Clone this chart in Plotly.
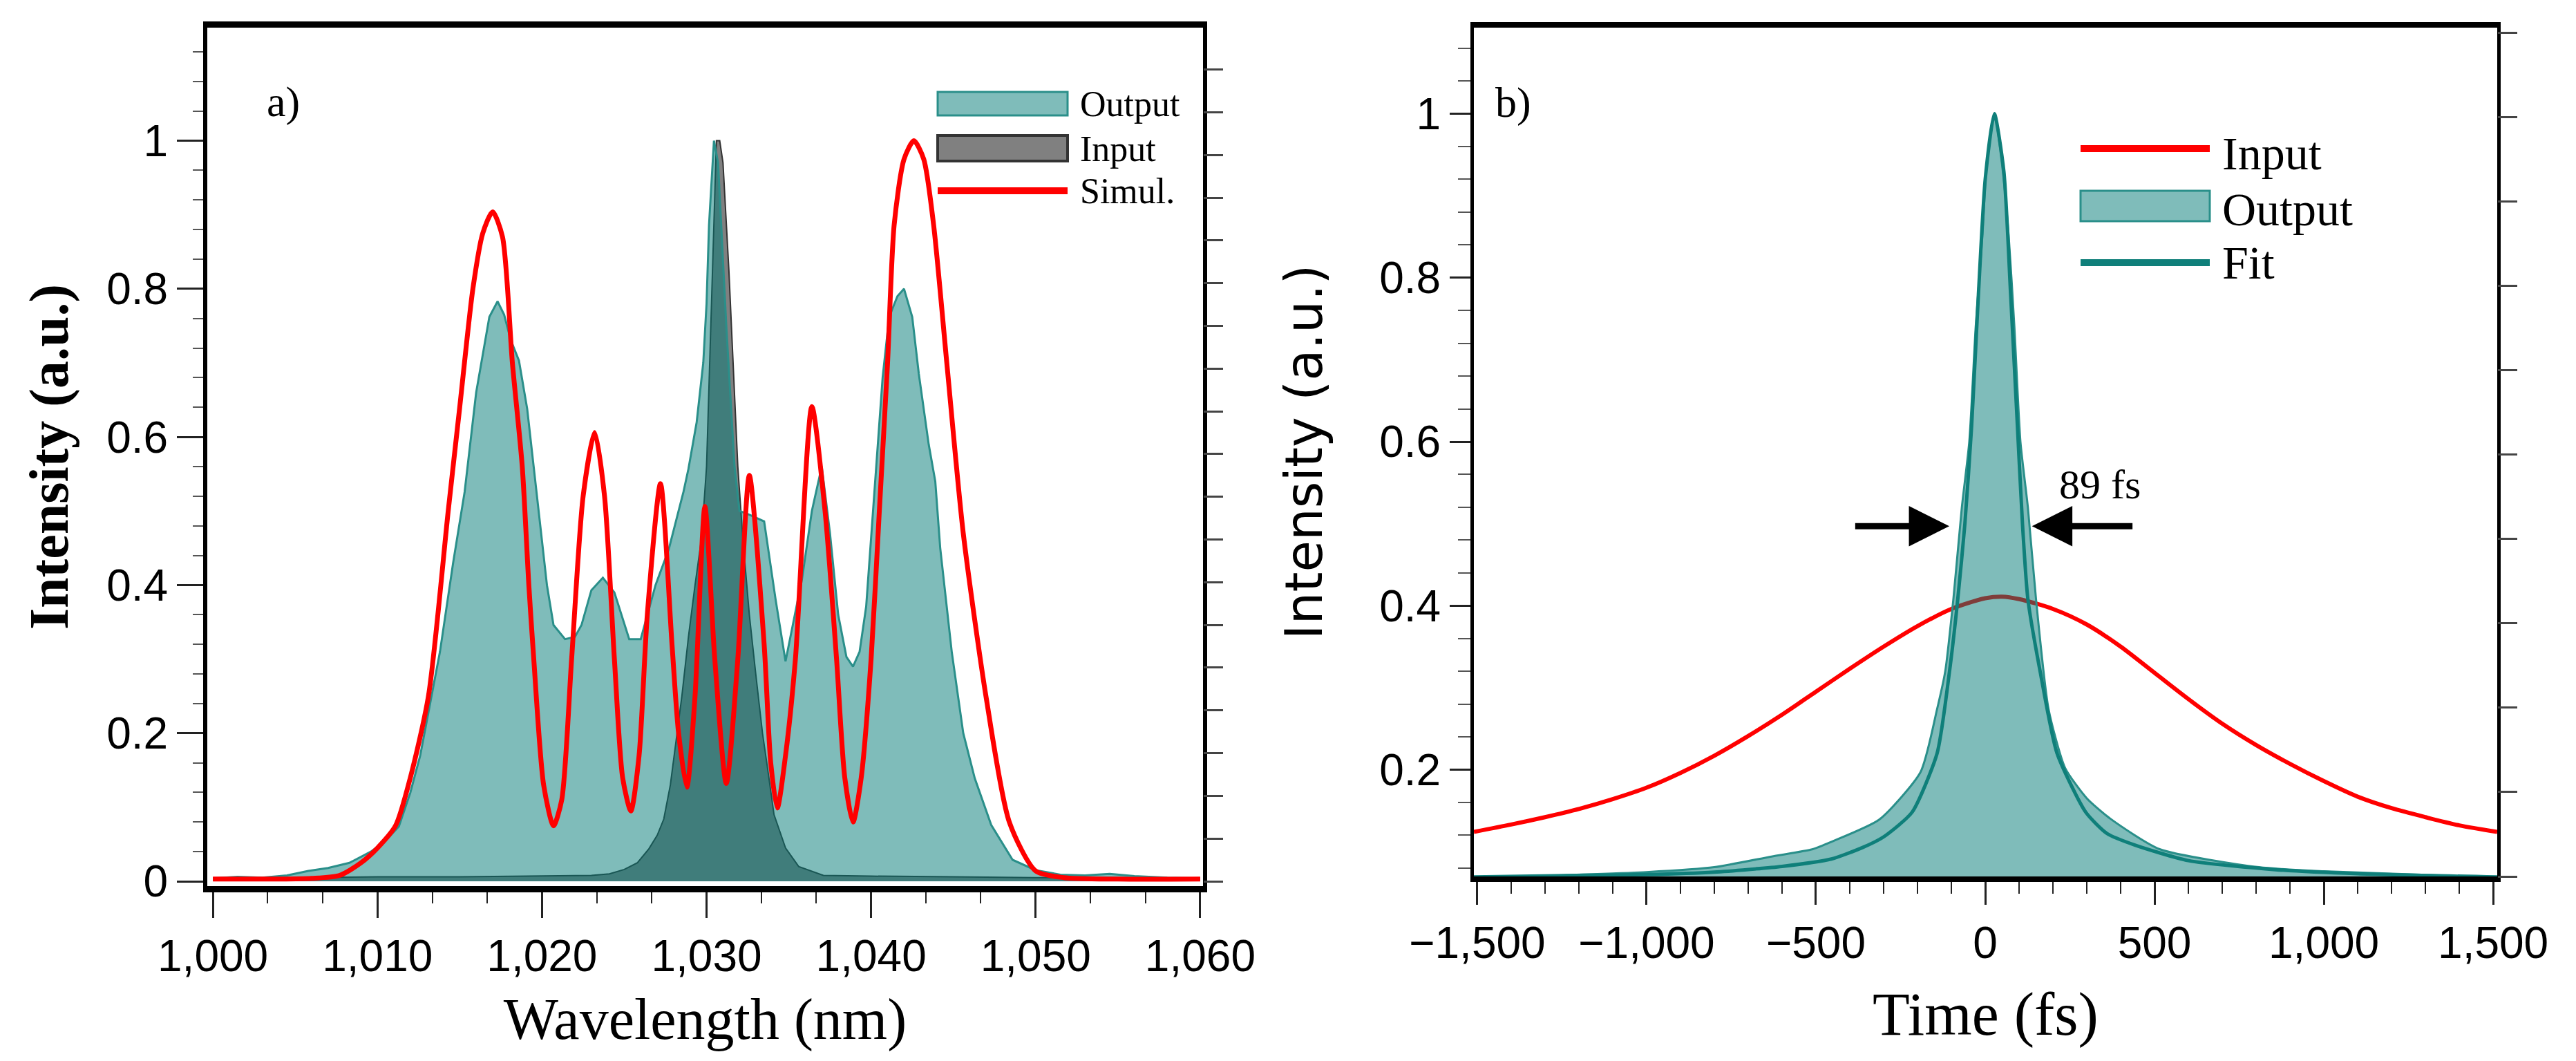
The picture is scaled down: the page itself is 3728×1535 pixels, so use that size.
import plotly.graph_objects as go

W, H = 3728, 1535

# ---------------- Panel a) data ----------------
sim_wl = [1000, 1004, 1006, 1007.7, 1009, 1010, 1011.1, 1012, 1013.1, 1014.3, 1015.0, 1015.8, 1016.4,
          1017.0, 1017.6, 1018.2, 1018.8, 1019.2, 1019.5, 1020.1, 1020.7, 1021.2, 1021.8, 1022.5, 1023.2,
          1023.8, 1024.4, 1024.9, 1025.4, 1025.9, 1026.4, 1027.2, 1027.9, 1028.3, 1028.8, 1029.3, 1029.9,
          1030.5, 1031.2, 1031.9, 1032.6, 1033.5, 1033.9, 1034.3, 1034.8, 1035.4, 1036.4, 1037.2, 1037.9,
          1038.4, 1038.9, 1039.4, 1040.0, 1040.5, 1041.0, 1041.4, 1042.0, 1042.6, 1043.2, 1043.8, 1044.6,
          1045.6, 1047.0, 1048.4, 1050.0, 1051.7, 1055, 1060]
sim_int = [0.003, 0.003, 0.004, 0.008, 0.025, 0.045, 0.075, 0.14, 0.25, 0.5, 0.64, 0.8, 0.875,
           0.904, 0.87, 0.70, 0.56, 0.40, 0.30, 0.13, 0.075, 0.11, 0.30, 0.52, 0.606,
           0.52, 0.30, 0.14, 0.095, 0.17, 0.36, 0.537, 0.32, 0.2, 0.127, 0.25, 0.506,
           0.30, 0.132, 0.30, 0.548, 0.32, 0.16, 0.099, 0.17, 0.30, 0.641, 0.50, 0.30,
           0.14, 0.08, 0.14, 0.30, 0.50, 0.70, 0.886, 0.975, 1.0, 0.975, 0.886, 0.70,
           0.47, 0.247, 0.08, 0.014, 0.005, 0.003, 0.003]

out_wl = [1000, 1001.5, 1003, 1004.5, 1005.8, 1007, 1008.3, 1009.6, 1010.5, 1011.3, 1012.0, 1012.6,
          1013.2, 1013.8, 1014.6, 1015.3, 1016.0, 1016.8, 1017.3, 1017.7, 1018.1, 1018.6, 1019.1, 1019.5,
          1020.3, 1020.7, 1021.4, 1022.0, 1022.4, 1023.0, 1023.7, 1024.4, 1025.3, 1026.0, 1026.9, 1027.7,
          1028.6, 1028.9, 1029.4, 1029.8, 1030.0, 1030.15, 1030.45, 1030.7, 1031.2, 1031.7, 1032.0, 1032.6,
          1033.5, 1034.2, 1034.8, 1035.8, 1036.4, 1037.0, 1037.5, 1038.0, 1038.5, 1038.9, 1039.3, 1039.7,
          1040.3, 1040.7, 1041.1, 1041.6, 1042.0, 1042.5, 1042.9, 1043.5, 1043.9, 1044.2, 1044.9, 1045.6,
          1046.3, 1047.3, 1048.6, 1050.0, 1051.5, 1053, 1054.5, 1056, 1058, 1060]
out_int = [0.004, 0.006, 0.005, 0.008, 0.014, 0.018, 0.025, 0.04, 0.055, 0.074, 0.12, 0.17,
           0.24, 0.31, 0.43, 0.526, 0.66, 0.762, 0.783, 0.765, 0.731, 0.703, 0.638, 0.56,
           0.40, 0.346, 0.327, 0.33, 0.346, 0.393, 0.41, 0.39, 0.327, 0.327, 0.40, 0.448,
           0.526, 0.557, 0.62, 0.70, 0.78, 0.886, 1.0, 0.97, 0.75, 0.56, 0.50, 0.495,
           0.486, 0.38, 0.297, 0.408, 0.50, 0.56, 0.47, 0.36, 0.303, 0.29, 0.31, 0.371,
           0.557, 0.68, 0.762, 0.79, 0.80, 0.762, 0.685, 0.59, 0.54, 0.45, 0.31, 0.20,
           0.139, 0.076, 0.029, 0.015, 0.009, 0.008, 0.01, 0.007, 0.005, 0.004]

inp_wl = [1000, 1005, 1010, 1015, 1020, 1023, 1024.1, 1025, 1025.8, 1026.5, 1027.0, 1027.4, 1027.8,
          1028.1, 1028.5, 1028.9, 1029.3, 1029.7, 1030.0, 1030.3, 1030.6, 1030.8, 1031.0, 1031.36,
          1031.9, 1032.2, 1032.6, 1033.0, 1033.4, 1033.7, 1034.1, 1034.8, 1035.6, 1037.1, 1040, 1045,
          1050, 1055, 1060]
inp_int = [0.004, 0.005, 0.006, 0.006, 0.007, 0.008, 0.01, 0.016, 0.025, 0.044, 0.062, 0.084, 0.13,
           0.18, 0.25, 0.33, 0.40, 0.464, 0.56, 0.78, 1.0, 1.0, 0.97, 0.824,
           0.56, 0.464, 0.36, 0.278, 0.2, 0.154, 0.09, 0.045, 0.02, 0.008, 0.007, 0.006,
           0.005, 0.005, 0.004]

# ---------------- Panel b) data ----------------
tin_t = [-1510, -1400, -1300, -1200, -1100, -1000, -900, -800, -700, -600, -500, -400, -300, -200,
         -100, 0, 50, 100, 200, 300, 400, 500, 600, 700, 800, 900, 1000, 1100, 1200, 1300, 1400, 1512]
tin_int = [0.124, 0.133, 0.142, 0.152, 0.164, 0.178, 0.196, 0.217, 0.241, 0.267, 0.295, 0.323, 0.350,
           0.375, 0.396, 0.409, 0.411, 0.408, 0.396, 0.377, 0.350, 0.318, 0.286, 0.256, 0.230, 0.207,
           0.186, 0.167, 0.153, 0.142, 0.132, 0.124]

tout_t = [-1510, -1264, -1000, -800, -631, -509, -454, -313, -191, -142, -118, -94, -69, -47, -28, -8,
          4, 27, 50, 69, 86, 104, 126, 150, 187, 236, 300, 370, 515, 808, 1000, 1345, 1512]
tout_int = [0.066, 0.071, 0.075, 0.081, 0.094, 0.103, 0.112, 0.139, 0.197, 0.274, 0.32, 0.408, 0.52,
            0.60, 0.741, 0.853, 0.937, 1.0, 0.937, 0.853, 0.741, 0.60, 0.52, 0.408, 0.274, 0.202,
            0.165, 0.14, 0.103, 0.081, 0.076, 0.071, 0.066]

fit_t = [-1510, -1200, -1000, -800, -600, -454, -362, -300, -216, -142, -106, -81, -60, -40, -20, 0,
         27, 55, 75, 95, 110, 126, 163, 212, 297, 360, 442, 600, 857, 1100, 1512]
fit_int = [0.069, 0.071, 0.072, 0.075, 0.082, 0.091, 0.105, 0.118, 0.148, 0.22, 0.318, 0.408, 0.50,
           0.62, 0.78, 0.92, 1.0, 0.93, 0.78, 0.62, 0.50, 0.408, 0.318, 0.22, 0.148, 0.122, 0.108,
           0.089, 0.078, 0.073, 0.069]

# ---------------- styles ----------------
TEAL_FILL = "rgba(0,122,118,0.5)"
TEAL_LINE = "#2a8f8a"
FIT_LINE = "#0f7f7a"
RED = "#ff0000"
SERIF = "Liberation Serif, Times New Roman, serif"
TICKF = "Liberation Sans, Arial, sans-serif"

fig = go.Figure()

# panel a
fig.add_trace(go.Scatter(x=inp_wl, y=inp_int, name="Input", mode="lines", fill="tozeroy",
                         fillcolor="#808080", line=dict(color="#333333", width=2),
                         xaxis="x", yaxis="y", showlegend=False))
fig.add_trace(go.Scatter(x=out_wl, y=out_int, name="Output", mode="lines", fill="tozeroy",
                         fillcolor=TEAL_FILL, line=dict(color=TEAL_LINE, width=3),
                         xaxis="x", yaxis="y", showlegend=False))
fig.add_trace(go.Scatter(x=sim_wl, y=sim_int, name="Simul.", mode="lines",
                         line=dict(color=RED, width=7, shape="spline", smoothing=0.7),
                         xaxis="x", yaxis="y", showlegend=False))
# dummy for right-side tick axis of panel a
fig.add_trace(go.Scatter(x=[1000], y=[0], mode="lines", opacity=0, hoverinfo="skip",
                         xaxis="x", yaxis="y3", showlegend=False))

# panel b
fig.add_trace(go.Scatter(x=tin_t, y=tin_int, name="Input", mode="lines",
                         line=dict(color=RED, width=6, shape="spline", smoothing=0.8),
                         xaxis="x2", yaxis="y2", showlegend=False))
fig.add_trace(go.Scatter(x=tout_t, y=tout_int, name="Output", mode="lines", fill="tozeroy",
                         fillcolor=TEAL_FILL, line=dict(color=TEAL_LINE, width=3, shape="spline", smoothing=0.6),
                         xaxis="x2", yaxis="y2", showlegend=False))
fig.add_trace(go.Scatter(x=fit_t, y=fit_int, name="Fit", mode="lines",
                         line=dict(color=FIT_LINE, width=5, shape="spline", smoothing=0.6),
                         xaxis="x2", yaxis="y2", showlegend=False))
fig.add_trace(go.Scatter(x=[0], y=[0.5], mode="lines", opacity=0, hoverinfo="skip",
                         xaxis="x2", yaxis="y4", showlegend=False))

def xd(px):
    return px / W

def yd(px):
    return 1 - px / H

common_x = dict(showline=True, linecolor="black", mirror=True, ticks="outside", tickcolor="#222",
                tickwidth=3, showgrid=False, zeroline=False, automargin=False,
                tickfont=dict(family=TICKF, size=64, color="black"))
common_y = dict(showline=True, linecolor="black", mirror=True, ticks="outside", tickcolor="#222",
                tickwidth=3, showgrid=False, zeroline=False, automargin=False,
                tickfont=dict(family=TICKF, size=64, color="black"))

fig.update_layout(
    width=W, height=H, paper_bgcolor="white", plot_bgcolor="white",
    margin=dict(l=0, r=0, t=0, b=0), showlegend=False, separators=".,",
    xaxis=dict(domain=[xd(292), xd(1733)], range=[999.66, 1060.17], anchor="y",
               tick0=1000, dtick=10, ticklen=37, tickformat=",d", linewidth=9,
               minor=dict(dtick=10/3, ticklen=16, tickwidth=2, tickcolor="#222", ticks="outside"),
               title=dict(text="Wavelength (nm)", standoff=30,
                          font=dict(family=SERIF, size=84, color="black")), **common_x),
    yaxis=dict(domain=[yd(1274), yd(32)], range=[-0.0065, 1.1526], anchor="x",
               tick0=0, dtick=0.2, ticklen=38, linewidth=6,
               minor=dict(dtick=0.04, ticklen=15, tickwidth=2, tickcolor="#555", ticks="outside"),
               title=dict(text="<b>Intensity (a.u.)</b>", standoff=31,
                          font=dict(family=SERIF, size=80, color="black")), **common_y),
    yaxis3=dict(overlaying="y", side="right", anchor="x", range=[-0.113, 19.98], dtick=1,
                ticks="outside", ticklen=28, tickwidth=3, tickcolor="#444", showticklabels=False,
                showgrid=False, zeroline=False, showline=False),
    xaxis2=dict(domain=[xd(2125), xd(3606)], range=[-1510, 1512], anchor="y2",
                tick0=0, dtick=500, ticklen=33, tickformat=",d", linewidth=8,
                minor=dict(dtick=100, ticklen=17, tickwidth=2, tickcolor="#222", ticks="outside"),
                title=dict(text="Time (fs)", standoff=40, font=dict(family=SERIF, size=88, color="black")),
                **common_x),
    yaxis2=dict(domain=[yd(1260), yd(32)], range=[0.0697, 1.105], anchor="x2",
                tick0=0, dtick=0.2, ticklen=30, linewidth=5,
                minor=dict(dtick=0.04, ticklen=18, tickwidth=2, tickcolor="#555", ticks="outside"),
                title=dict(text="Intensity (a.u.)", standoff=60,
                           font=dict(family="DejaVu Sans, sans-serif", size=74, color="black")), **common_y),
    yaxis4=dict(overlaying="y2", side="right", anchor="x2", range=[0, 10.06], dtick=1,
                ticks="outside", ticklen=28, tickwidth=3, tickcolor="#444", showticklabels=False,
                showgrid=False, zeroline=False, showline=False),
)

# panel labels
fig.add_annotation(x=xd(376), y=yd(103), xref="paper", yref="paper", text="a)", showarrow=False,
                   font=dict(family=SERIF, size=62, color="black"))
fig.add_annotation(x=xd(2182), y=yd(104), xref="paper", yref="paper", text="b)", showarrow=False,
                   font=dict(family=SERIF, size=62, color="black"))

# FWHM annotation
fig.add_annotation(x=338, y=0.548, xref="x2", yref="y2", text="89 fs", showarrow=False,
                   font=dict(family=SERIF, size=60, color="black"))
fig.add_annotation(x=-106, y=0.497, ax=-387, ay=0.497, xref="x2", yref="y2", axref="x2", ayref="y2",
                   text="", showarrow=True, arrowhead=2, arrowsize=1.3, arrowwidth=9, arrowcolor="black")
fig.add_annotation(x=138, y=0.497, ax=438, ay=0.497, xref="x2", yref="y2", axref="x2", ayref="y2",
                   text="", showarrow=True, arrowhead=2, arrowsize=1.3, arrowwidth=9, arrowcolor="black")

# ---- manual legends ----
# panel a legend
fig.add_shape(type="rect", xref="paper", yref="paper", x0=xd(1349), x1=xd(1537), y0=yd(159), y1=yd(125),
              fillcolor=TEAL_FILL, line=dict(color=TEAL_LINE, width=3))
fig.add_shape(type="rect", xref="paper", yref="paper", x0=xd(1349), x1=xd(1537), y0=yd(225), y1=yd(188),
              fillcolor="#808080", line=dict(color="#333333", width=4))
fig.add_shape(type="line", xref="paper", yref="paper", x0=xd(1349), x1=xd(1537), y0=yd(268), y1=yd(268),
              line=dict(color=RED, width=10))
for txt, yy in [("Output", 142), ("Input", 208), ("Simul.", 268)]:
    fig.add_annotation(x=xd(1553), y=yd(yy), xref="paper", yref="paper", text=txt, showarrow=False,
                       xanchor="left", yanchor="middle", font=dict(family=SERIF, size=52, color="black"))

# panel b legend
fig.add_shape(type="line", xref="paper", yref="paper", x0=xd(3003), x1=xd(3190), y0=yd(207), y1=yd(207),
              line=dict(color=RED, width=10))
fig.add_shape(type="rect", xref="paper", yref="paper", x0=xd(3003), x1=xd(3190), y0=yd(312), y1=yd(268),
              fillcolor=TEAL_FILL, line=dict(color=TEAL_LINE, width=3))
fig.add_shape(type="line", xref="paper", yref="paper", x0=xd(3003), x1=xd(3190), y0=yd(372), y1=yd(372),
              line=dict(color=FIT_LINE, width=10))
for txt, yy in [("Input", 214), ("Output", 295), ("Fit", 372)]:
    fig.add_annotation(x=xd(3206), y=yd(yy), xref="paper", yref="paper", text=txt, showarrow=False,
                       xanchor="left", yanchor="middle", font=dict(family=SERIF, size=68, color="black"))

fig.write_html("out.html")
